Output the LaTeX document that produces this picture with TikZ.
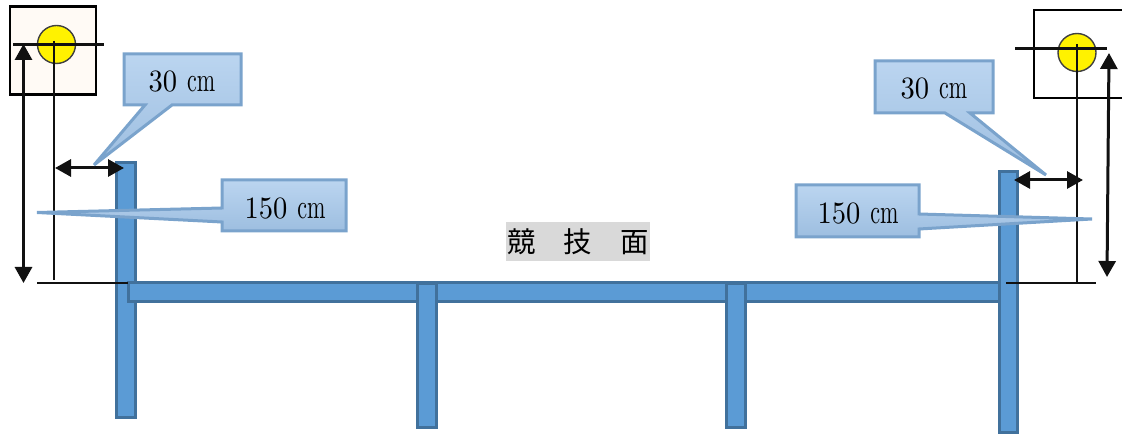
\documentclass[tikz,border=0pt]{standalone}
\usepackage{fontspec}
\usepackage{graphicx}
\newfontfamily\cjk{Noto Sans CJK JP}
\usetikzlibrary{arrows.meta}
\definecolor{postfill}{HTML}{5B9BD5}
\definecolor{postline}{HTML}{41719C}
\definecolor{calltop}{HTML}{BBD5F0}
\definecolor{callbot}{HTML}{9DBEE0}
\definecolor{callline}{HTML}{7AA3CC}
\definecolor{inkline}{HTML}{111111}
\newcommand{\dimtext}[1]{\fontsize{10}{12}\selectfont\scalebox{2.85}[3.1]{#1}\hspace{10pt}\scalebox{2.2}[3.4]{cm}}
\tikzset{
  post/.style={draw=postline,fill=postfill,line width=3.4pt,inner sep=0pt,minimum width=#1,anchor=north west},
  callshape/.style={top color=calltop,bottom color=callbot,draw=callline,line width=3pt,line join=miter,miter limit=3},
  calllabel/.style={inner sep=0pt,text=black},
  thin line/.style={draw=inkline,line width=2.2pt},
  dimarrow/.style={draw=inkline,line width=3pt,{Triangle[length=16pt,width=17pt]}-{Triangle[length=16pt,width=17pt]}},
  markbox/.style={draw=black,line width=2.2pt,inner sep=0pt,anchor=north west},
  ball/.style={circle,draw=black!75,fill=yellow,line width=1.4pt,inner sep=0pt,minimum size=38pt}
}
\begin{document}
\begin{tikzpicture}[x=1pt,y=-1pt]
\useasboundingbox (0,0) rectangle (1122,435);
% mark boxes
\node[markbox,fill=white,minimum width=90pt,minimum height=88pt] (boxR) at (1033,9) {};
\node[markbox,fill=orange!4,minimum width=86pt,minimum height=88pt] (boxL) at (9,5.5) {};
\node[ball] (ballL) at (56.5,44.5) {};
\node[ball] (ballR) at (1077,52.5) {};
% posts and beam
\node[post=19pt,minimum height=255pt] (postL) at (115,161) {};
\node[post=18pt,minimum height=19pt,minimum width=873pt] (beam) at (127,281) {};
\node[post=19pt,minimum height=144pt] (midA) at (416,282) {};
\node[post=19pt,minimum height=144pt] (midB) at (725,282) {};
\node[post=18pt,minimum height=261pt] (postR) at (998,170) {};
% coordinates
\coordinate (hLa) at (13,44.5); \coordinate (hLb) at (104,44.5);
\coordinate (vLa) at (54,41);   \coordinate (vLb) at (54,280);
\coordinate (gLa) at (37,283);  \coordinate (gLb) at (128,283);
\coordinate (aLa) at (23.5,44); \coordinate (aLb) at (23.5,283);
\coordinate (wLa) at (55,168);  \coordinate (wLb) at (124,168);
\coordinate (hRa) at (1015,48.5); \coordinate (hRb) at (1107,48.5);
\coordinate (vRa) at (1077,44);   \coordinate (vRb) at (1077,283);
\coordinate (gRa) at (1006,283);  \coordinate (gRb) at (1096,283);
\coordinate (aRa) at (1109,53);   \coordinate (aRb) at (1107,277);
\coordinate (wRa) at (1014,180);  \coordinate (wRb) at (1083,180);
% thin lines
\draw[thin line] (hLa) -- (hLb);
\draw[thin line] (vLa) -- (vLb);
\draw[thin line] (gLa) -- (gLb);
\draw[thin line] (hRa) -- (hRb);
\draw[thin line] (vRa) -- (vRb);
\draw[thin line] (gRa) -- (gRb);
% dimension arrows
\draw[dimarrow] (aLa) -- (aLb);
\draw[dimarrow] (wLa) -- (wLb);
\draw[dimarrow] (aRa) -- (aRb);
\draw[dimarrow] (wRa) -- (wRb);
% callouts
\shade[callshape] (124,54) -- (241,54) -- (241,105) -- (172,105) -- (94,165) -- (145,105) -- (124,105) -- cycle;
\shade[callshape] (222,180) -- (346,180) -- (346,231) -- (222,231) -- (222,222) -- (37,212.5) -- (222,208) -- cycle;
\shade[callshape] (875,61) -- (993,61) -- (993,113) -- (970,113) -- (1046,175) -- (945,113) -- (875,113) -- cycle;
\shade[callshape] (796,185) -- (919,185) -- (919,214) -- (1092,219) -- (919,229) -- (919,237) -- (796,237) -- cycle;
\node[calllabel] (t30L) at (182,82) {\dimtext{30}};
\node[calllabel] (t150L) at (285,209) {\dimtext{150}};
\node[calllabel] (t30R) at (934,89) {\dimtext{30}};
\node[calllabel] (t150R) at (858,214) {\dimtext{150}};
% surface label
\node[fill=black!15,inner sep=0pt,minimum width=144pt,minimum height=39pt] (surface) at (578,241.5) {\cjk\fontsize{28.4}{30}\selectfont 競　技　面};
\end{tikzpicture}
\end{document}
